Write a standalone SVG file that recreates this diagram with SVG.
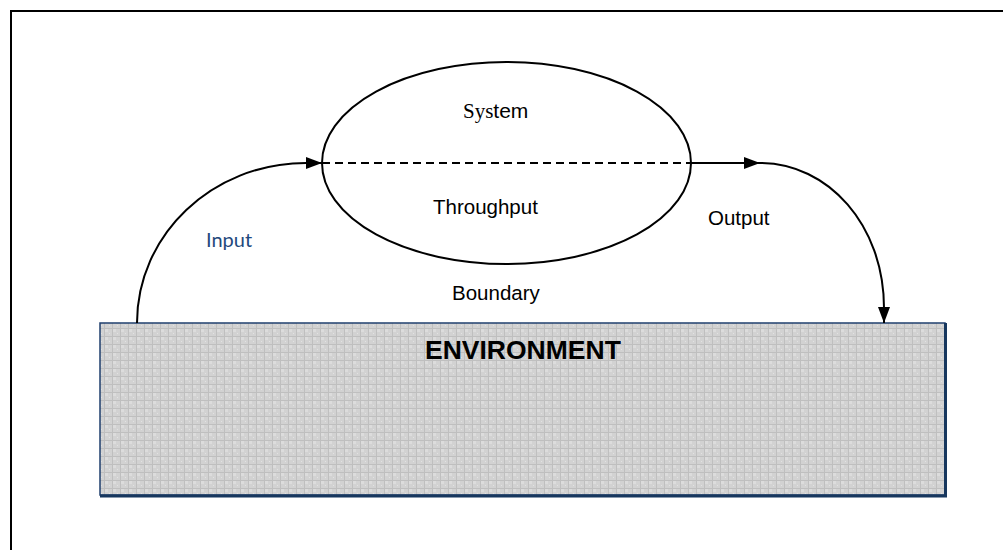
<svg xmlns="http://www.w3.org/2000/svg" width="1003" height="550" viewBox="0 0 1003 550">
  <style>
    .lbl { font-family: "Liberation Sans", Arial, sans-serif; font-size: 20.5px; fill: #000; }
    .conn { fill: none; stroke: #000; stroke-width: 2; }
  </style>
  <defs>
    <marker id="arrow" markerWidth="16" markerHeight="12" refX="16" refY="6" orient="auto" markerUnits="userSpaceOnUse">
      <path d="M0,0 L16,6 L0,12 Z" fill="#000"/>
    </marker>
    <pattern id="grain" width="8" height="8" patternUnits="userSpaceOnUse">
      <rect width="8" height="8" fill="#d2d2d2"/>
      <rect x="1" y="1" width="3" height="3" fill="#dcdcdc"/>
      <rect x="0" y="0" width="8" height="1" fill="#bfbfbf"/>
      <rect x="0" y="0" width="1" height="8" fill="#bfbfbf"/>
      <rect x="5" y="5" width="1" height="1" fill="#e2e2e2"/>
    </pattern>
  </defs>

  <rect width="1003" height="550" fill="#fff"/>

  <!-- page frame -->
  <path d="M11,552 V11 H1005" fill="none" stroke="#000" stroke-width="2"/>

  <!-- environment block -->
  <g id="environment">
    <rect x="100" y="323" width="845" height="172" fill="url(#grain)" stroke="#1f3f6e" stroke-width="1.5"/>
    <path d="M945.5,323 V496 H100" fill="none" stroke="#17375e" stroke-width="3"/>
    <text x="425" y="359" font-family="Liberation Sans, Arial, sans-serif" font-weight="bold" font-size="26.5" fill="#000">ENVIRONMENT</text>
  </g>

  <!-- system ellipse -->
  <g id="system">
    <ellipse cx="506.5" cy="163" rx="184.5" ry="101" fill="none" stroke="#000" stroke-width="2"/>
    <line x1="322" y1="163" x2="691" y2="163" stroke="#000" stroke-width="2" stroke-dasharray="8,5"/>
    <text x="463" y="118" font-size="21" fill="#000"><tspan font-family="Liberation Serif, serif">Sys</tspan><tspan font-family="Liberation Sans, sans-serif">tem</tspan></text>
    <text class="lbl" x="433" y="214">Throughput</text>
  </g>

  <g id="boundary-label">
    <text class="lbl" x="452" y="300">Boundary</text>
  </g>

  <!-- flows -->
  <g id="connectors">
    <path class="conn" d="M137,323 C137,235 212,163 306,163 L322,163" marker-end="url(#arrow)"/>
    <path class="conn" d="M691,163 L760,163" marker-end="url(#arrow)"/>
    <path class="conn" d="M760,163 C828,163 884,225 884,308 L884,323" marker-end="url(#arrow)"/>
  </g>

  <g id="input-label">
    <text x="206" y="247" font-family="Lato, 'Open Sans', sans-serif" font-size="20" fill="#1f497d">Input</text>
  </g>
  <g id="output-label">
    <text class="lbl" x="708" y="225">Output</text>
  </g>
</svg>
